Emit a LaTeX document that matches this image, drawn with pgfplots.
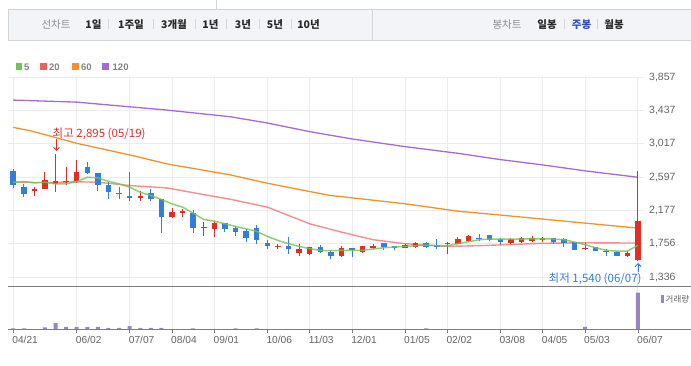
\documentclass[border=0pt]{standalone}
\usepackage{pgfplots}
\pgfplotsset{compat=1.18}
\usepackage{pgfplotstable}
\usetikzlibrary{arrows.meta}
\usepackage{fontspec}
\setmainfont{Liberation Sans}
\newfontfamily\kr{Noto Sans CJK KR}

\definecolor{cup}{RGB}{228,44,38}
\definecolor{cdn}{RGB}{52,124,222}
\definecolor{ma5}{RGB}{112,196,84}
\definecolor{ma20}{RGB}{240,96,96}
\definecolor{ma60}{RGB}{243,146,40}
\definecolor{ma120}{RGB}{166,106,214}
\definecolor{vol}{RGB}{152,134,196}
\definecolor{gridc}{RGB}{236,236,236}
\definecolor{axc}{RGB}{125,125,125}
\definecolor{labc}{RGB}{100,100,100}
\definecolor{tbfill}{RGB}{243,244,247}
\definecolor{tbline}{RGB}{212,212,216}
\definecolor{tbgray}{RGB}{140,140,140}
\definecolor{tbdark}{RGB}{40,40,40}
\definecolor{tbblue}{RGB}{40,80,190}
\definecolor{legc}{RGB}{130,130,130}

% up (red) candles: x O H L C
\pgfplotstableread{
x O H L C
2 2422 2472 2359 2451
3 2447 2669 2443 2568
4 2514 2895 2409 2556
5 2535 2723 2505 2556
6 2556 2820 2526 2665
12 2334 2426 2300 2359
15 2095 2208 2082 2158
16 2141 2195 2095 2170
18 1958 2028 1856 1972
19 1944 2040 1843 2019
25 1716 1751 1693 1730
27 1642 1755 1600 1688
28 1630 1714 1617 1714
31 1600 1726 1592 1701
33 1655 1726 1642 1726
34 1701 1751 1693 1730
37 1705 1760 1701 1743
38 1714 1776 1701 1768
41 1760 1776 1626 1774
42 1760 1839 1751 1814
43 1793 1869 1785 1852
47 1768 1835 1760 1818
48 1776 1843 1768 1827
49 1789 1852 1776 1835
50 1810 1848 1781 1826
54 1692 1768 1684 1709
58 1605 1667 1592 1642
59 1555 2681 1540 2040
}\up

% down (blue) candles: x O H L C
\pgfplotstableread{
x O H L C
0 2677 2706 2463 2501
1 2480 2514 2346 2388
7 2732 2795 2640 2648
8 2648 2656 2422 2501
9 2505 2535 2321 2409
10 2405 2480 2321 2388
11 2367 2669 2300 2334
13 2405 2451 2292 2317
14 2329 2329 1894 2095
17 2145 2179 1894 1957
20 2019 2025 1906 1944
21 1957 1977 1856 1906
22 1919 1948 1781 1831
23 1952 1990 1755 1806
24 1764 1801 1693 1730
26 1726 1839 1630 1688
29 1714 1739 1642 1651
30 1651 1667 1563 1600
32 1701 1709 1592 1676
35 1768 1772 1676 1714
36 1726 1730 1680 1705
39 1768 1776 1705 1714
40 1743 1814 1688 1722
44 1830 1881 1793 1815
45 1864 1869 1793 1806
46 1818 1827 1755 1781
51 1827 1835 1755 1785
52 1814 1831 1722 1772
53 1776 1780 1676 1680
55 1713 1716 1667 1672
56 1667 1688 1600 1655
57 1659 1667 1600 1605
}\down

\pgfplotstableread{
x y
0 2535
1 2543
2 2526
3 2535
4 2514
5 2514
6 2543
7 2598
8 2589
9 2547
10 2514
11 2472
12 2409
13 2367
14 2317
15 2262
16 2220
17 2145
18 2065
19 2044
20 2011
21 1977
22 1948
23 1915
24 1852
25 1801
26 1760
27 1726
28 1697
29 1676
30 1672
31 1676
32 1676
33 1676
34 1693
35 1709
36 1718
37 1726
38 1734
39 1743
40 1734
41 1734
42 1760
43 1785
44 1810
45 1818
46 1818
47 1818
48 1818
49 1822
50 1822
51 1818
52 1810
53 1781
54 1747
55 1709
56 1676
57 1667
58 1667
59 1739
}\mafive

\pgfplotstableread{
x y
0 2535
3 2530
6 2540
8 2535
11 2493
14.5 2463
17.6 2388
20.5 2320
24 2221
28 2011
31 1906
34 1810
37 1760
41 1726
44 1735
47 1750
50 1765
54 1772
59 1768
}\matwenty

\pgfplotstableread{
x y
0 3226
1.6 3184
6 3025
11.3 2870
14.5 2766
20.5 2627
24 2522
28 2417
30 2367
32 2338
37 2263
42 2170
46.4 2116
59 1956
}\masixty

\pgfplotstableread{
x y
0 3570
6 3544
14.5 3444
20.5 3360
24 3281
28 3172
32 3080
37 2983
42 2899
46 2820
50 2753
54 2678
59 2597
}\maonetwenty

\pgfplotsset{
  candle/.style={only marks, mark=*, mark size=0pt, mark options={draw=none, fill=none}, forget plot,
    error bars/.cd, y dir=plus, y explicit, error mark=none,
    error bar style={draw=#1}},
}

\begin{document}
\begin{tikzpicture}[font=\fontsize{10}{12}\selectfont]
\useasboundingbox (0,0) rectangle (691pt,-366pt);

% ---- toolbar ----
\draw[tbline, line width=0.8pt] (216pt,0pt) -- (216pt,-9pt);
\fill[tbfill] (8pt,-9pt) rectangle (691pt,-40.5pt);
\draw[tbline, line width=0.8pt] (691pt,-9pt) -- (8pt,-9pt) -- (8pt,-40.5pt) -- (691pt,-40.5pt);
\draw[tbline, line width=0.8pt] (372pt,-9pt) -- (372pt,-40.5pt);
\begin{scope}[font=\kr\fontsize{10.5}{12}\selectfont]
\node[text=tbgray] at (56pt,-24.5pt) {선차트};
\node[text=tbdark, font=\kr\bfseries\fontsize{10.5}{12}\selectfont] at (93.5pt,-24.5pt) {1일};
\node[text=tbdark, font=\kr\bfseries\fontsize{10.5}{12}\selectfont] at (131pt,-24.5pt) {1주일};
\node[text=tbdark, font=\kr\bfseries\fontsize{10.5}{12}\selectfont] at (174pt,-24.5pt) {3개월};
\node[text=tbdark, font=\kr\bfseries\fontsize{10.5}{12}\selectfont] at (210.5pt,-24.5pt) {1년};
\node[text=tbdark, font=\kr\bfseries\fontsize{10.5}{12}\selectfont] at (243pt,-24.5pt) {3년};
\node[text=tbdark, font=\kr\bfseries\fontsize{10.5}{12}\selectfont] at (275pt,-24.5pt) {5년};
\node[text=tbdark, font=\kr\bfseries\fontsize{10.5}{12}\selectfont] at (308.5pt,-24.5pt) {10년};
\node[text=tbgray] at (507pt,-24.5pt) {봉차트};
\node[text=tbdark, font=\kr\bfseries\fontsize{10.5}{12}\selectfont] at (547pt,-24.5pt) {일봉};
\node[text=tbblue, font=\kr\bfseries\fontsize{10.5}{12}\selectfont] at (581.5pt,-24.5pt) {주봉};
\node[text=tbdark, font=\kr\bfseries\fontsize{10.5}{12}\selectfont] at (614pt,-24.5pt) {월봉};
\end{scope}
\foreach \sx in {108.5,153,195.5,226.5,259,291.5,564,597.5}
  \draw[tbline, line width=0.7pt] (\sx pt,-19.5pt) -- (\sx pt,-29.5pt);

% ---- legend ----
\begin{scope}[font=\bfseries\fontsize{9.5}{11}\selectfont]
\fill[ma5] (15.5pt,-63.5pt) rectangle (22pt,-70pt);
\node[anchor=west, inner sep=0pt, text=legc] at (24pt,-67pt) {5};
\fill[ma20] (40pt,-63.5pt) rectangle (46.5pt,-70pt);
\node[anchor=west, inner sep=0pt, text=legc] at (49pt,-67pt) {20};
\fill[ma60] (72pt,-63.5pt) rectangle (78.5pt,-70pt);
\node[anchor=west, inner sep=0pt, text=legc] at (81pt,-67pt) {60};
\fill[ma120] (102pt,-63.5pt) rectangle (108.5pt,-70pt);
\node[anchor=west, inner sep=0pt, text=legc] at (112.5pt,-67pt) {120};
\end{scope}

% ---- price panel ----
\begin{axis}[
  at={(8pt,-77.3pt)}, anchor=north west,
  scale only axis, width=636pt, height=209.4pt,
  xmin=-0.49, xmax=59.57, ymin=1218, ymax=3857,
  axis line style={draw=none},
  xtick={0,6,11,15,19,24,28,32,37,41,46,50,54,59}, xticklabels={},
  ytick={1336,1756.17,2176.33,2596.5,3016.67,3436.83,3857},
  yticklabels={{1,336},{1,756},{2,177},{2,597},{3,017},{3,437},{3,857}},
  yticklabel pos=right,
  yticklabel style={anchor=west, inner sep=0pt, xshift=5pt, text=labc, font=\fontsize{10.5}{12}\selectfont},
  major tick length=0pt,
  grid=major, grid style={draw=gridc, line width=1pt},
]
% moving averages (long ones behind)
\addplot[ma120, line width=1.3pt, mark=none] table {\maonetwenty};
\addplot[ma60, line width=1.3pt, mark=none] table {\masixty};
\addplot[ma20, line width=1.4pt, mark=none, opacity=0.7] table {\matwenty};
% wicks
\addplot[candle={cup, line width=1pt}] table[x=x, y=L, y error expr=\thisrow{H}-\thisrow{L}] {\up};
\addplot[candle={cdn, line width=1pt}] table[x=x, y=L, y error expr=\thisrow{H}-\thisrow{L}] {\down};
% bodies
\addplot[candle={cup, line width=5.5pt}] table[x=x, y=O, y error expr=\thisrow{C}-\thisrow{O}] {\up};
\addplot[candle={cdn, line width=5.5pt}] table[x=x, y=C, y error expr=\thisrow{O}-\thisrow{C}] {\down};
\addplot[ma5, line width=1.5pt, mark=none, opacity=0.8] table {\mafive};
\end{axis}

% ---- volume panel ----
\begin{axis}[
  at={(8pt,-286.7pt)}, anchor=north west,
  scale only axis, width=636pt, height=42.6pt,
  xmin=-0.49, xmax=59.57, ymin=0, ymax=116.4,
  axis line style={draw=none},
  ytick=\empty,
  xtick={0,6,11,15,19,24,28,32,37,41,46,50,54,59},
  xticklabels={04/21,06/02,07/07,08/04,09/01,10/06,11/03,12/01,01/05,02/02,03/08,04/05,05/03,06/07},
  xtick pos=left, tick align=outside, major tick length=4pt,
  xtick style={draw=axc, line width=0.8pt},
  xticklabel style={anchor=north west, inner sep=0pt, xshift=-1pt, yshift=-3pt, text=labc, font=\fontsize{10.2}{12}\selectfont},
  xmajorgrids, grid style={draw=gridc, line width=1pt},
]
\addplot[ybar, bar width=4pt, fill=vol, draw=none] coordinates {
(0,2.7) (1,2.7) (3,5.5) (4,17.3) (5,6.4) (6,6.4) (7,6.4) (8,6.4) (9,3.6) (10,3.6)
(11,9) (12,3.6) (13,3.6) (14,3.6) (17,2.7) (21,2.7) (23,2.7) (39,2.7) (54,6.4) (59,100)};
\end{axis}

% panel separator lines
\draw[axc, line width=1.2pt] (8pt,-286.7pt) -- (691pt,-286.7pt);
\draw[axc, line width=1.2pt] (8pt,-329.3pt) -- (691pt,-329.3pt);

% volume legend
\fill[vol] (661pt,-295pt) rectangle (663.5pt,-302.5pt);
\node[anchor=west, inner sep=0pt, text=labc, font=\kr\fontsize{8.5}{10}\selectfont] at (665.5pt,-299pt) {거래량};

% annotations
\node[anchor=west, inner sep=0pt, text=cup, font=\kr\fontsize{11.5}{13}\selectfont] at (52.5pt,-134pt) {최고 2,895 (05/19)};
\draw[cup, line width=1pt, -{Straight Barb[length=3pt,width=6pt]}] (56.5pt,-139.5pt) -- (56.5pt,-151pt);
\node[anchor=west, inner sep=0pt, text=cdn, font=\kr\fontsize{11.5}{13}\selectfont] at (548.5pt,-279pt) {최저 1,540 (06/07)};
\draw[cdn, line width=1pt, -{Straight Barb[length=3pt,width=6pt]}] (638pt,-272pt) -- (638pt,-263pt);
\end{tikzpicture}
\end{document}
